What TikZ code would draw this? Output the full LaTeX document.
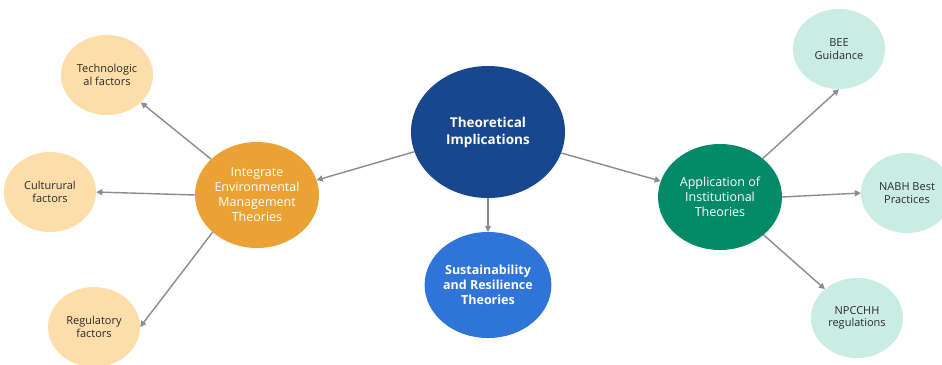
\documentclass[tikz,border=0pt]{standalone}
\usepackage{fontspec}
\setmainfont{Open Sans}
\usetikzlibrary{shapes.geometric,arrows.meta}
\definecolor{deepblue}{HTML}{18478F}
\definecolor{midblue}{HTML}{2F74D8}
\definecolor{amber}{HTML}{EBA235}
\definecolor{teal}{HTML}{048A68}
\definecolor{peach}{HTML}{FDDEAB}
\definecolor{mint}{HTML}{C9EDE3}
\definecolor{ink}{HTML}{2B2B2B}
\definecolor{linkgray}{HTML}{8C8C8C}
\tikzset{
  bubble/.style={ellipse, inner sep=0pt, align=center},
  hub/.style={bubble, minimum width=124pt, minimum height=106pt, text=white,
    font=\fontsize{12.5}{15}\selectfont},
  leaf/.style={bubble, minimum width=92pt, minimum height=80pt, text=ink,
    font=\fontsize{11}{12.5}\selectfont},
  link/.style={draw=linkgray, line width=1.4pt,
    -{Triangle[length=6pt,width=6pt]}}
}
\begin{document}
\begin{tikzpicture}[x=1pt,y=-1pt]
  \useasboundingbox[fill=white] (0,0) rectangle (942,364);

  % central topic
  \node[bubble, fill=deepblue, text=white, minimum width=154pt, minimum height=132pt,
        font=\bfseries\fontsize{13.5}{17}\selectfont] (theory) at (488,132)
        {Theoretical\\Implications};

  % second level
  \node[hub, fill=amber] (integ) at (257,195)
        {Integrate\\Environmental\\Management\\Theories};
  \node[hub, fill=midblue, font=\bfseries\fontsize{12.5}{15}\selectfont] (sust) at (488,285)
        {Sustainability\\and Resilience\\Theories};
  \node[hub, fill=teal] (inst) at (720,197)
        {Application of\\Institutional\\Theories};

  % factors
  \node[leaf, fill=peach] (tech) at (107,75) {Technologic\\al factors};
  \node[leaf, fill=peach] (cult) at (50,192) {Culturural\\factors};
  \node[leaf, fill=peach] (reg) at (94,327) {Regulatory\\factors};

  % institutional references
  \node[leaf, fill=mint] (bee) at (839,49) {BEE\\Guidance};
  \node[leaf, fill=mint] (nabh) at (907,193) {NABH Best\\Practices};
  \node[leaf, fill=mint] (npc) at (857,318) {NPCCHH\\regulations};

  % connectors
  \draw[link] (theory.195) -- (integ.14);
  \draw[link] (theory.south) -- (sust.north);
  \draw[link] (theory.344) -- (inst.165);

  \draw[link] (integ.142) -- (tech.321);
  \draw[link] (integ.west) -- (cult.east);
  \draw[link] (integ.220) -- (reg.east);

  \draw[link] (inst.42) -- (bee.south);
  \draw[link] (inst.east) -- (nabh.west);
  \draw[link] (inst.319) -- (npc.138);
\end{tikzpicture}
\end{document}
